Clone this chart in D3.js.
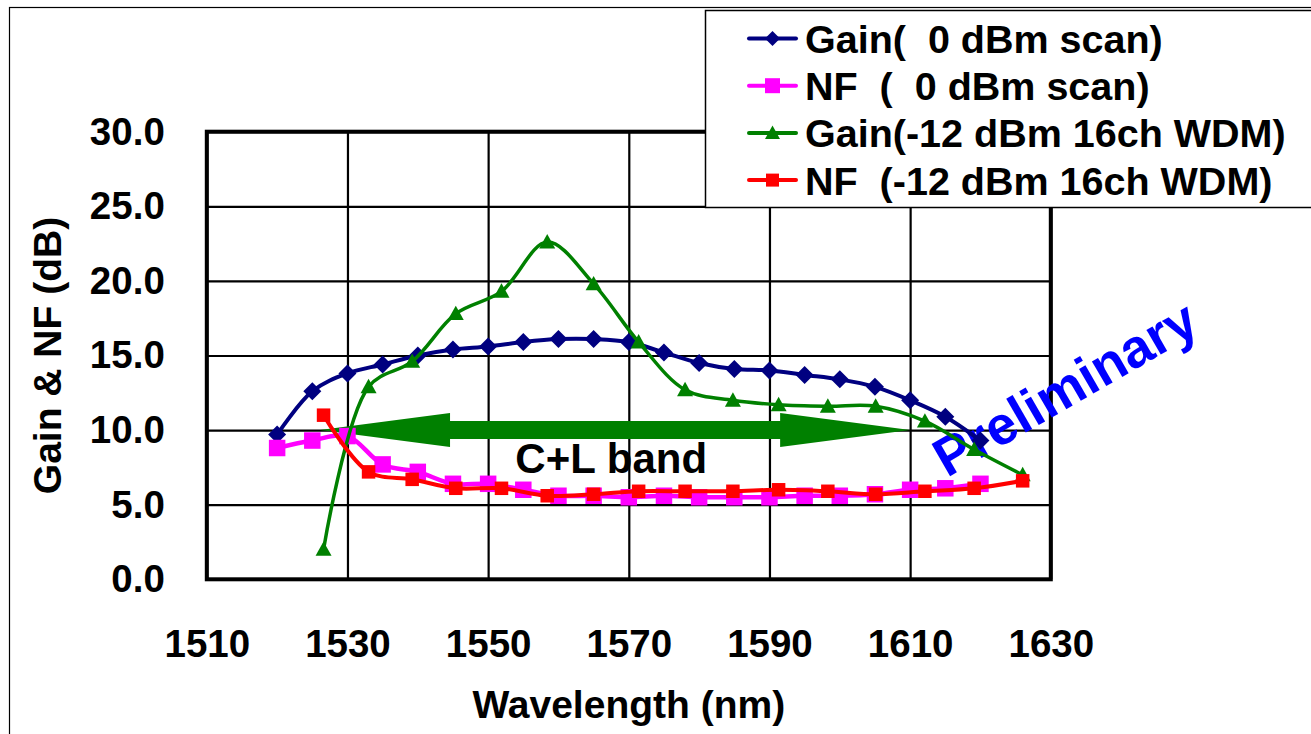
<!DOCTYPE html>
<html>
<head>
<meta charset="utf-8">
<script src="https://cdn.jsdelivr.net/npm/d3@7"></script>
<style>
  body { margin: 0; background: #fff; }
  svg text { font-family: Arial, "Liberation Sans", sans-serif; font-weight: bold; }
</style>
</head>
<body>
<div id="chart"></div>
<script>
// wavelength scan, 0 dBm input
const wlScan = [1520, 1525, 1530, 1535, 1540, 1545, 1550, 1555, 1560, 1565, 1570,
                1575, 1580, 1585, 1590, 1595, 1600, 1605, 1610, 1615, 1620];
const gainScan = [9.7, 12.6, 13.8, 14.4, 15.0, 15.4, 15.6, 15.9, 16.1, 16.1, 15.9,
                  15.2, 14.5, 14.1, 14.0, 13.7, 13.4, 12.9, 12.0, 10.9, 9.3];
const nfScan = [8.8, 9.3, 9.6, 7.7, 7.2, 6.4, 6.4, 6.0, 5.6, 5.6, 5.5,
                5.6, 5.5, 5.5, 5.5, 5.6, 5.6, 5.7, 6.0, 6.1, 6.4];

// 16ch WDM, -12 dBm/ch
const wlWdm = [1526.6, 1533.0, 1539.2, 1545.4, 1551.9, 1558.4, 1565.0, 1571.4,
               1578.0, 1584.8, 1591.3, 1598.3, 1605.1, 1612.1, 1619.1, 1626.0];
const gainWdm = [2.0, 12.9, 14.6, 17.8, 19.3, 22.6, 19.8, 15.9,
                 12.7, 12.0, 11.7, 11.6, 11.6, 10.6, 8.7, 7.0];
const nfWdm = [11.0, 7.2, 6.7, 6.1, 6.1, 5.6, 5.7, 5.9,
               5.9, 5.9, 6.0, 5.9, 5.7, 5.9, 6.1, 6.6];

const xTicks = [1510, 1530, 1550, 1570, 1590, 1610, 1630];
const yTicks = [0, 5, 10, 15, 20, 25, 30];
const bandRange = [1526.1, 1610.0]; // C+L band arrow

const W = 1311, H = 734;
const svg = d3.select("#chart").append("svg").attr("width", W).attr("height", H);

// outer chart frame
svg.append("rect")
  .attr("x", 9.5).attr("y", 7.5).attr("width", W + 20).attr("height", H + 20)
  .attr("fill", "none").attr("stroke", "#000").attr("stroke-width", 1.2);

const x = d3.scaleLinear().domain([1510, 1630]).range([206.8, 1050.8]);
const y = d3.scaleLinear().domain([0, 30]).range([579.3, 131.7]);
const plotW = x(1630) - x(1510), plotH = y(0) - y(30);

// grid + tick labels
const gx = svg.append("g")
  .attr("transform", `translate(0,${y(0)})`)
  .call(d3.axisBottom(x).tickValues(xTicks).tickSize(-plotH).tickPadding(50).tickFormat(d3.format("d")));
const gy = svg.append("g")
  .attr("transform", `translate(${x(1510)},0)`)
  .call(d3.axisLeft(y).tickValues(yTicks).tickSize(-plotW).tickPadding(42).tickFormat(d3.format(".1f")));
[gx, gy].forEach(g => {
  g.select(".domain").remove();
  g.selectAll(".tick line").attr("stroke", "#000").attr("stroke-width", 2.2);
  g.selectAll(".tick text").attr("fill", "#000").style("font-size", "38.5px")
   .style("font-family", "Arial, 'Liberation Sans', sans-serif").style("font-weight", "bold");
});

// plot border
svg.append("rect")
  .attr("x", x(1510)).attr("y", y(30)).attr("width", plotW).attr("height", plotH)
  .attr("fill", "none").attr("stroke", "#000").attr("stroke-width", 4);

// axis titles
svg.append("text")
  .attr("x", (x(1510) + x(1630)) / 2).attr("y", 718)
  .attr("text-anchor", "middle").style("font-size", "39px").text("Wavelength (nm)");
svg.append("text")
  .attr("transform", `translate(61,${(y(0) + y(30)) / 2}) rotate(-90)`)
  .attr("text-anchor", "middle").style("font-size", "39px").text("Gain & NF (dB)");

// annotations (behind series)
const ay = y(10), headL = 130, headH = 17, shaftH = 9;
const ax0 = x(bandRange[0]), ax1 = x(bandRange[1]);
svg.append("path")
  .attr("d", `M${ax0},${ay} L${ax0 + headL},${ay - headH} L${ax0 + headL},${ay - shaftH}
              L${ax1 - headL},${ay - shaftH} L${ax1 - headL},${ay - headH} L${ax1},${ay}
              L${ax1 - headL},${ay + headH} L${ax1 - headL},${ay + shaftH}
              L${ax0 + headL},${ay + shaftH} L${ax0 + headL},${ay + headH} Z`)
  .attr("fill", "#008000");
svg.append("text")
  .attr("x", x(1567.5)).attr("y", 473)
  .attr("text-anchor", "middle").style("font-size", "42px").attr("fill", "#000")
  .text("C+L band");
svg.append("text")
  .attr("transform", "translate(947,478) rotate(-30)")
  .style("font-size", "54px").attr("fill", "#0000ff")
  .text("Preliminary");

// series
const series = [
  { name: "Gain(  0 dBm scan)", xs: wlScan, ys: gainScan, color: "#000080", shape: "diamond", size: 18, lsize: 15, lw: 4 },
  { name: "NF  (  0 dBm scan)", xs: wlScan, ys: nfScan, color: "#ff00ff", shape: "square", size: 16.5, lsize: 15, lw: 4.5 },
  { name: "Gain(-12 dBm 16ch WDM)", xs: wlWdm, ys: gainWdm, color: "#008000", shape: "triangle", size: 16, lsize: 15, lw: 3.5 },
  { name: "NF  (-12 dBm 16ch WDM)", xs: wlWdm, ys: nfWdm, color: "#ff0000", shape: "square", size: 13.5, lsize: 13, lw: 4 }
];

function marker(shape, s) {
  const h = s / 2;
  if (shape === "diamond") return `M0,${-h}L${h},0L0,${h}L${-h},0Z`;
  if (shape === "square") return `M${-h},${-h}H${h}V${h}H${-h}Z`;
  return `M0,${-h}L${h},${h * 0.8}L${-h},${h * 0.8}Z`;
}

const line = d3.line().x(d => x(d[0])).y(d => y(d[1])).curve(d3.curveCatmullRom.alpha(0.5));

series.forEach(s => {
  const pts = s.xs.map((v, i) => [v, s.ys[i]]);
  const g = svg.append("g");
  g.append("path").attr("d", line(pts)).attr("fill", "none")
    .attr("stroke", s.color).attr("stroke-width", s.lw).attr("stroke-linejoin", "round");
  g.selectAll("path.m").data(pts).enter().append("path").attr("class", "m")
    .attr("transform", d => `translate(${x(d[0])},${y(d[1])})`)
    .attr("d", marker(s.shape, s.size)).attr("fill", s.color);
});

// legend
const lg = svg.append("g");
lg.append("rect").attr("x", 705.5).attr("y", 10.5).attr("width", 700).attr("height", 197)
  .attr("fill", "#fff").attr("stroke", "#000").attr("stroke-width", 1.5);
series.forEach((s, i) => {
  const ly = 38.5 + i * 47.2;
  lg.append("line").attr("x1", 749).attr("x2", 796).attr("y1", ly).attr("y2", ly)
    .attr("stroke", s.color).attr("stroke-width", 4).attr("stroke-linecap", "round");
  lg.append("path").attr("transform", `translate(772.5,${ly})`)
    .attr("d", marker(s.shape, s.lsize)).attr("fill", s.color);
  lg.append("text").attr("x", 805).attr("y", ly + 14.5)
    .style("font-size", "39.5px").style("white-space", "pre").attr("fill", "#000")
    .text(s.name);
});
</script>
</body>
</html>
